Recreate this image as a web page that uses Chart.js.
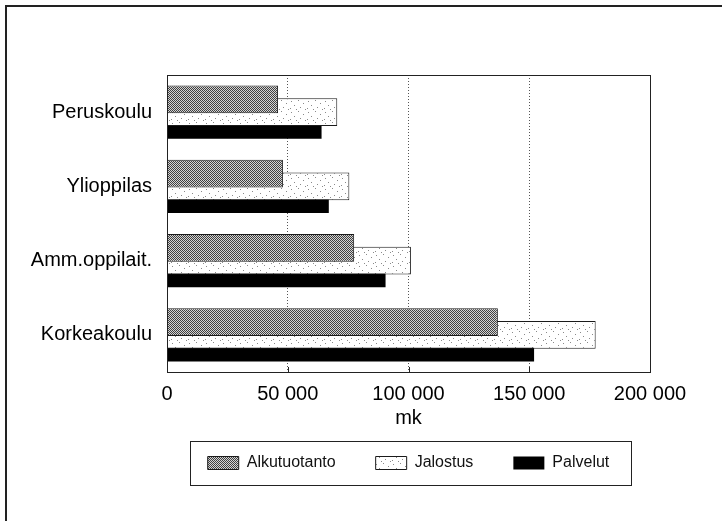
<!DOCTYPE html>
<html>
<head>
<meta charset="utf-8">
<script src="https://cdn.jsdelivr.net/npm/chart.js@4/dist/chart.umd.min.js"></script>
<style>
  html, body { margin: 0; padding: 0; background: #fff; }
  #wrap { width: 722px; height: 521px; }
</style>
</head>
<body>
<div id="wrap"><canvas id="koulutus_graph" width="722" height="521"></canvas></div>
<script>
const categories = ['Peruskoulu', 'Ylioppilas', 'Amm.oppilait.', 'Korkeakoulu'];
const alkutuotanto = [46000, 48000, 77500, 137000];
const jalostus = [70500, 75500, 101000, 177500];
const palvelut = [64000, 67000, 90500, 152000];
const xMin = 0;
const xMax = 200000;
const xStep = 50000;
const xTitle = 'mk';

const FONT = "'Liberation Sans', Arial, sans-serif";

function fmt(v) {
    return String(v).replace(/\B(?=(\d{3})+(?!\d))/g, ' ');
}

const ctx = document.getElementById('koulutus_graph').getContext('2d');

// dense grey dot fill (Alkutuotanto)
function dotPattern() {
    const c = document.createElement('canvas');
    c.width = 4; c.height = 4;
    const g = c.getContext('2d');
    g.fillStyle = '#d4d4d4';
    g.fillRect(0, 0, 4, 4);
    g.fillStyle = '#404040';
    for (let y = 0; y < 4; y++)
        for (let x = 0; x < 4; x++)
            if ((x + y) % 2 == 0) g.fillRect(x, y, 1, 1);
    return ctx.createPattern(c, 'repeat');
}

// white fill with a few specks (Jalostus)
function speckPattern() {
    const c = document.createElement('canvas');
    c.width = 17; c.height = 11;
    const g = c.getContext('2d');
    g.fillStyle = '#ffffff';
    g.fillRect(0, 0, 17, 11);
    g.fillStyle = '#8a8a8a';
    [[2, 2], [9, 1], [14, 4], [5, 6], [11, 8], [1, 9], [16, 10], [7, 10]].forEach(p => g.fillRect(p[0], p[1], 1, 1));
    return ctx.createPattern(c, 'repeat');
}

const frames = {
    id: 'frames',
    afterDraw(chart) {
        const c = chart.ctx;
        const a = chart.chartArea;
        c.save();
        // page frame (top + left edge of the scanned box)
        c.strokeStyle = '#222';
        c.lineWidth = 2;
        c.beginPath();
        c.moveTo(6, chart.height);
        c.lineTo(6, 6);
        c.lineTo(chart.width, 6);
        c.stroke();
        // plot frame
        c.lineWidth = 1;
        c.strokeRect(a.left + 0.5, a.top + 0.5, a.right - a.left, a.bottom - a.top);
        // small ticks on the bottom edge
        const xs = chart.scales.x;
        xs.ticks.forEach(t => {
            const px = Math.round(xs.getPixelForValue(t.value)) + 0.5;
            c.beginPath();
            c.moveTo(px, a.bottom);
            c.lineTo(px, a.bottom - 5);
            c.stroke();
        });
        // legend frame
        const hb = chart.legend.legendHitBoxes;
        if (hb && hb.length) {
            const first = hb[0], last = hb[hb.length - 1];
            const cy = first.top + first.height / 2;
            const l = Math.round(first.left - 18) + 0.5;
            const r = Math.round(last.left + last.width + 22) + 0.5;
            c.strokeRect(l, Math.round(cy - 22) + 0.5, r - l, 44);
        }
        c.restore();
    }
};

const chart = new Chart(ctx, {
    type: 'bar',
    data: {
        labels: categories,
        datasets: [
            {
                label: 'Alkutuotanto',
                data: alkutuotanto,
                backgroundColor: dotPattern(),
                borderColor: '#1a1a1a',
                borderWidth: 1,
            },
            {
                label: 'Jalostus',
                data: jalostus,
                backgroundColor: speckPattern(),
                borderColor: '#1a1a1a',
                borderWidth: 1,
            },
            {
                label: 'Palvelut',
                data: palvelut,
                backgroundColor: '#000000',
                borderColor: '#000000',
                borderWidth: 0,
            },
        ]
    },
    plugins: [frames],
    options: {
        indexAxis: 'y',
        responsive: false,
        animation: false,
        layout: {
            padding: { top: 75, right: 72, bottom: 40, left: 0 }
        },
        datasets: {
            bar: {
                categoryPercentage: 0.515,
                barPercentage: 2.16,
            }
        },
        plugins: {
            tooltip: { enabled: false },
            legend: {
                position: 'bottom',
                fullSize: false,
                labels: {
                    boxWidth: 31,
                    boxHeight: 13,
                    padding: 40,
                    color: '#111',
                    font: { family: FONT, size: 16 }
                }
            }
        },
        scales: {
            x: {
                min: xMin,
                max: xMax,
                afterFit: s => { s.height = 43; },
                ticks: {
                    stepSize: xStep,
                    padding: 10,
                    color: '#000',
                    font: { family: FONT, size: 20 },
                    callback: v => fmt(v)
                },
                grid: {
                    drawTicks: false,
                    lineWidth: 1,
                    color: c => (c.tick && (c.tick.value == xMin || c.tick.value == xMax)) ? 'rgba(0,0,0,0)' : '#555'
                },
                border: { display: false, dash: [1, 2] },
                title: {
                    display: true,
                    text: xTitle,
                    color: '#000',
                    font: { family: FONT, size: 20 },
                    padding: { top: 0, bottom: -15 }
                }
            },
            y: {
                afterFit: s => { s.width = 167; },
                ticks: {
                    padding: 15,
                    color: '#000',
                    font: { family: FONT, size: 20 }
                },
                grid: { display: false, drawTicks: false },
                border: { display: false }
            }
        }
    }
});
</script>
</body>
</html>
